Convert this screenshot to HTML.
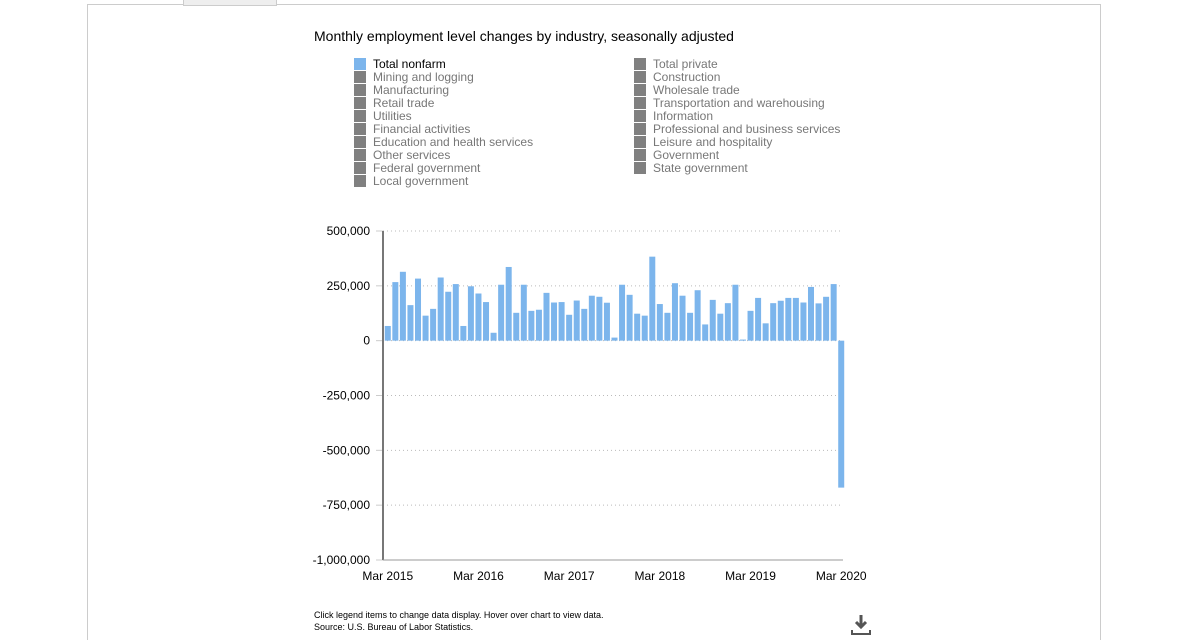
<!DOCTYPE html>
<html style="width:1192px;height:640px;overflow:hidden"><head><meta charset="utf-8"><style>
body{margin:0;width:1192px;height:640px;background:#fff;font-family:"Liberation Sans",Arial,sans-serif;position:relative;overflow:hidden}
.frame{position:absolute;left:87px;top:4px;width:1014px;height:636px;border:1px solid #ccc;border-bottom:none;box-sizing:border-box}
.tab{position:absolute;left:183px;top:0;width:92px;height:5px;border:1px solid #ccc;border-top:none;background:#eee}
.title{position:absolute;left:314px;top:28px;font-size:14px;color:#000}
.leg{position:absolute;font-size:12px;color:#777;line-height:13px}
.leg div{height:13px;position:relative;padding-left:19px;white-space:nowrap}
.leg div span{position:absolute;left:0;top:0;width:12px;height:12px;background:#808080}
.note{position:absolute;left:314px;top:609px;font-size:9px;color:#000;line-height:12px}
</style></head><body>
<div class="frame"></div>
<div class="tab"></div>
<div class="title">Monthly employment level changes by industry, seasonally adjusted</div>
<div class="leg" style="left:354px;top:58px">
<div style="color:#000"><span style="background:#7cb5ec"></span>Total nonfarm</div>
<div><span></span>Mining and logging</div>
<div><span></span>Manufacturing</div>
<div><span></span>Retail trade</div>
<div><span></span>Utilities</div>
<div><span></span>Financial activities</div>
<div><span></span>Education and health services</div>
<div><span></span>Other services</div>
<div><span></span>Federal government</div>
<div><span></span>Local government</div>
</div>
<div class="leg" style="left:634px;top:58px">
<div><span></span>Total private</div>
<div><span></span>Construction</div>
<div><span></span>Wholesale trade</div>
<div><span></span>Transportation and warehousing</div>
<div><span></span>Information</div>
<div><span></span>Professional and business services</div>
<div><span></span>Leisure and hospitality</div>
<div><span></span>Government</div>
<div><span></span>State government</div>
</div>
<svg id="chart" width="1192" height="640" style="position:absolute;left:0;top:0"></svg>
<div class="note">Click legend items to change data display. Hover over chart to view data.<br>Source: U.S. Bureau of Labor Statistics.</div>
<svg width="24" height="24" style="position:absolute;left:849px;top:613px">
<path d="M12 2v12M7 9l5 5 5-5" stroke="#555" stroke-width="3" fill="none"/><path d="M3 17v4h18v-4" stroke="#555" stroke-width="2" fill="none"/></svg>
<script>
const values=[67,267,314,162,283,114,145,288,223,258,67,248,215,176,36,255,336,127,255,136,141,218,174,176,118,183,145,205,200,173,14,255,209,123,114,383,167,127,262,205,127,230,74,186,123,171,255,5,136,195,79,171,182,195,195,174,245,170,200,258,-670].map(v=>v*1000);
const yTicks=[500000,250000,0,-250000,-500000,-750000,-1000000];
const xLabels=["Mar 2015","Mar 2016","Mar 2017","Mar 2018","Mar 2019","Mar 2020"];
const xLabelIdx=[0,12,24,36,48,60];
const NS="http://www.w3.org/2000/svg",svg=document.getElementById('chart');
const x0=384,x1=845,yTop=231,yBot=560,yMax=500000,yMin=-1000000;
const y=v=>yTop+(yMax-v)/(yMax-yMin)*(yBot-yTop);
const slot=(x1-x0)/values.length;
const xc=i=>x0+slot*(i+0.5);
function mk(t,a){const e=document.createElementNS(NS,t);for(const k in a)e.setAttribute(k,a[k]);svg.appendChild(e);return e;}
yTicks.forEach(t=>{
 const g=mk('line',{x1:383,x2:843,y1:y(t),y2:y(t),stroke:'#bbb','stroke-dasharray':'1,3'});
 
 
 const l=mk('text',{x:370,y:y(t)+4,'text-anchor':'end','font-size':'12','fill':'#000'});
 l.textContent=t.toLocaleString('en-US');
 
 
 const tk=mk('line',{x1:376,x2:383,y1:y(t),y2:y(t),stroke:'#ccc'});
 
 
});
values.forEach((v,i)=>{
 const r=mk('rect',{x:xc(i)-3,width:6,y:Math.min(y(v),y(0)),height:Math.abs(y(v)-y(0)),fill:'#7cb5ec'});
 
 
});
const ax=mk('line',{x1:383,x2:383,y1:yTop,y2:yBot,stroke:'#777','stroke-width':2});


const bx=mk('line',{x1:383,x2:843,y1:yBot,y2:yBot,stroke:'#999'});


xLabelIdx.forEach((idx,k)=>{
 const t=mk('text',{x:xc(idx),y:580,'text-anchor':'middle','font-size':'12','fill':'#000'});
 t.textContent=xLabels[k];
 
 
});
</script>
</body></html>
